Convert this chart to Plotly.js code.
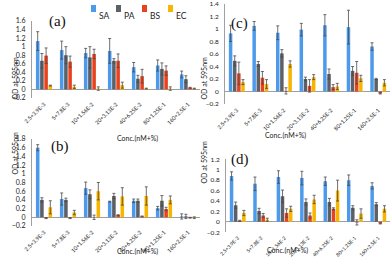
<!DOCTYPE html>
<html><head><meta charset="utf-8">
<script src="https://cdn.plot.ly/plotly-3.0.1.min.js"></script>
<style>html,body{margin:0;padding:0;background:#fff}#c{width:392px;height:264px}</style>
</head><body><div id="c"></div>
<script>
const categories = ["2.5+3.9E-3","5+7.8E-3","10+1.56E-2","20+3.13E-2","40+6.25E-2","80+1.25E-1","160+2.5E-1"];
const seriesNames = ["SA","PA","BS","EC"];
const seriesColors = ["#4d9aea","#5b6167","#e8431e","#f7b500"];
const panelLabels = ["(a)","(b)","(c)","(d)"];
const xTitle = "Conc.(nM+%)";
const yTitle = "OD at 595nm";

// panel (a)
const a_SA = [1.13,0.92,0.85,0.90,0.52,0.56,0.35];
const a_PA = [0.67,0.80,0.75,0.67,0.25,0.48,0.24];
const a_BS = [0.79,0.65,0.83,0.67,0.31,0.44,0.04];
const a_EC = [0.09,0.06,0.02,0.10,0.02,0.02,0.02];
const a_SA_err = [0.22,0.21,0.11,0.29,0.11,0.13,0.08];
const a_PA_err = [0.17,0.20,0.25,0.05,0.08,0.14,0.08];
const a_BS_err = [0.18,0.13,0.11,0.16,0.16,0.11,0.01];
const a_EC_err = [0.01,0.04,0.04,0.07,0.01,0.04,0.01];
// panel (b)
const b_SA = [1.60,0.42,0.67,0.36,0.38,0.21,0.02];
const b_PA = [0.40,0.40,0.53,0.49,0.38,0.38,0.02];
const b_BS = [-0.02,-0.02,0.00,0.05,0.02,0.19,-0.01];
const b_EC = [0.23,0.11,0.60,0.48,0.49,0.40,-0.01];
const b_SA_err = [0.07,0.14,0.14,0.01,0.04,0.04,0.06];
const b_PA_err = [0.05,0.04,0.10,0.06,0.04,0.12,0.05];
const b_BS_err = [0.01,0.01,0.05,0.01,0.01,0.04,0.01];
const b_EC_err = [0.15,0.05,0.20,0.20,0.21,0.09,0.02];
// panel (c)
const c_SA = [0.93,1.05,0.94,0.99,1.06,1.03,0.72];
const c_PA = [0.49,0.44,0.61,0.20,0.28,0.33,0.20];
const c_BS = [0.29,0.22,0.01,0.09,0.07,0.30,-0.03];
const c_EC = [0.15,0.12,0.44,0.23,0.08,0.21,0.14];
const c_SA_err = [0.13,0.07,0.11,0.10,0.17,0.27,0.06];
const c_PA_err = [0.08,0.04,0.06,0.03,0.08,0.07,0.01];
const c_BS_err = [0.18,0.10,0.05,0.10,0.04,0.18,0.01];
const c_EC_err = [0.04,0.07,0.05,0.04,0.05,0.05,0.05];
// panel (d)
const d_SA = [0.88,0.73,0.86,0.84,0.78,0.80,0.69];
const d_PA = [0.32,0.21,0.49,0.38,0.38,0.27,0.34];
const d_BS = [0.02,0.12,0.17,0.12,0.25,-0.01,-0.03];
const d_EC = [0.17,0.04,0.25,0.43,0.60,0.16,0.25];
const d_SA_err = [0.08,0.13,0.12,0.13,0.08,0.10,0.06];
const d_PA_err = [0.06,0.05,0.12,0.06,0.07,0.04,0.03];
const d_BS_err = [0.01,0.04,0.08,0.05,0.02,0.05,0.01];
const d_EC_err = [0.05,0.03,0.05,0.08,0.20,0.09,0.06];

const panels = [
  {vals:[a_SA,a_PA,a_BS,a_EC], errs:[a_SA_err,a_PA_err,a_BS_err,a_EC_err], xa:'x', ya:'y'},
  {vals:[b_SA,b_PA,b_BS,b_EC], errs:[b_SA_err,b_PA_err,b_BS_err,b_EC_err], xa:'x2', ya:'y2'},
  {vals:[c_SA,c_PA,c_BS,c_EC], errs:[c_SA_err,c_PA_err,c_BS_err,c_EC_err], xa:'x3', ya:'y3'},
  {vals:[d_SA,d_PA,d_BS,d_EC], errs:[d_SA_err,d_PA_err,d_BS_err,d_EC_err], xa:'x4', ya:'y4'}
];

const traces = [];
panels.forEach(p => {
  seriesNames.forEach((n, i) => {
    traces.push({
      type:'bar', name:n, x:categories, y:p.vals[i], xaxis:p.xa, yaxis:p.ya,
      marker:{color:seriesColors[i], line:{width:0}},
      error_y:{type:'data', array:p.errs[i], visible:true, color:'#4a4a4a', thickness:0.8, width:1.5},
      showlegend:false, hoverinfo:'skip'
    });
  });
});

const F = "Lato, 'Open Sans', sans-serif";
function xax(dom, anchor, fs){
  return {domain:dom, anchor:anchor, showline:false, showgrid:false, zeroline:false, ticks:'',
    tickangle:-45, ticklabelstandoff:1, tickfont:{family:F, size:fs, color:'#222'}, fixedrange:true};
}
function yax(dom, anchor, lo, hi, fs){
  return {domain:dom, anchor:anchor, range:[lo-0.0001, hi+0.0001], dtick:0.2, tick0:0,
    showline:true, linecolor:'#a0a0a0', linewidth:1, showgrid:false, zeroline:true,
    zerolinecolor:'#a0a0a0', zerolinewidth:1, ticks:'', ticklabelstandoff:4,
    tickfont:{family:F, size:fs, color:'#222'}, fixedrange:true};
}
const W=392, H=264;
const px = v => v/W, py = v => 1 - v/H;

const annotations = [];
const shapes = [];
const labelPos = [[46.5,11],[48.5,146],[239,12.5],[240,159]];
panelLabels.forEach((t,i)=>annotations.push({text:t, x:px(labelPos[i][0]), y:py(labelPos[i][1]), xref:'paper', yref:'paper',
  showarrow:false, font:{family:"'Liberation Serif', serif", size:15, color:'#111'}}));
const xtPos = [[115,138],[115,258],[308,135],[310,257]];
xtPos.forEach(p=>annotations.push({text:xTitle, x:px(p[0]), y:py(p[1]), xref:'paper', yref:'paper', showarrow:false,
  font:{family:F, size:7, color:'#222'}}));
const ytPos = [[8,55],[8,177],[203,55],[203,186]];
ytPos.forEach(p=>annotations.push({text:yTitle, x:px(p[0]), y:py(p[1]), xref:'paper', yref:'paper', showarrow:false, textangle:-90,
  font:{family:F, size:7, color:'#222'}}));
// legend
const legX = [91,116,142,168];
seriesNames.forEach((n,i)=>{
  shapes.push({type:'rect', xref:'paper', yref:'paper', x0:px(legX[i]), x1:px(legX[i]+5), y0:py(12), y1:py(5),
    fillcolor:seriesColors[i], line:{width:0}});
  annotations.push({text:n, x:px(legX[i]+6), y:py(8.5), xref:'paper', yref:'paper', xanchor:'left', showarrow:false,
    font:{family:F, size:8.5, color:'#222'}});
});

const layout = {
  width:W, height:H, margin:{l:0,r:0,t:0,b:0}, paper_bgcolor:'#fff', plot_bgcolor:'rgba(0,0,0,0)',
  barmode:'group', bargap:0.3, bargroupgap:0.15, showlegend:false,
  xaxis: xax([px(32),px(200)],'y',5.5),
  yaxis: yax([py(98),py(21)],'x',-0.2,1.6,7),
  xaxis2: xax([px(32),px(200)],'y2',5.5),
  yaxis2: yax([py(226),py(139)],'x2',-0.2,1.8,7),
  xaxis3: xax([px(225),px(390)],'y3',5.5),
  yaxis3: yax([py(104),py(4)],'x3',-0.2,1.4,6.5),
  xaxis4: xax([px(226),px(390)],'y4',5),
  yaxis4: yax([py(232.3),py(159.3)],'x4',-0.2,1.2,6.5),
  annotations:annotations, shapes:shapes
};
Plotly.newPlot('c', traces, layout, {displayModeBar:false, staticPlot:true});
</script></body></html>
